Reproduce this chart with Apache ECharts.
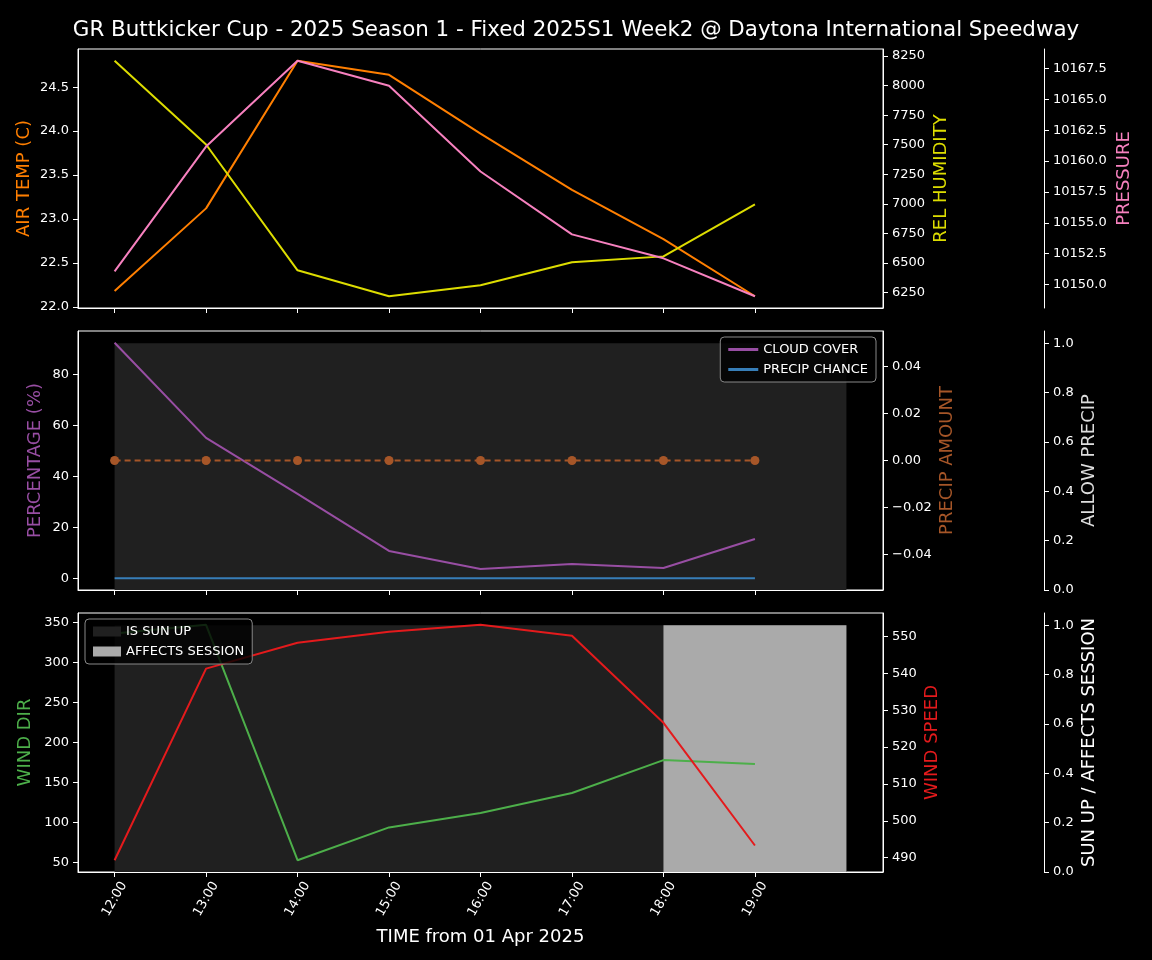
<!DOCTYPE html>
<html><head><meta charset="utf-8">
<script src="https://cdn.jsdelivr.net/npm/echarts@6/dist/echarts.min.js"></script>
<style>html,body{margin:0;padding:0;background:#000;}#c{width:1152px;height:960px;}</style>
</head><body><div id="c"></div>
<script>
const times = ['12:00','13:00','14:00','15:00','16:00','17:00','18:00','19:00'];
const fillHours = [0,1,2,3,4,5,6,7,8];
const airTemp = [22.18, 23.12, 24.80, 24.64, 23.97, 23.33, 22.77, 22.12];
const relHumidity = [8210, 7502, 6438, 6219, 6312, 6506, 6556, 6995];
const pressure = [10151.07, 10161.17, 10168.12, 10166.1, 10159.15, 10154.06, 10152.12, 10149.05];
const cloudCover = [92.3, 55.0, 33.1, 10.7, 3.6, 5.6, 4.0, 15.4];
const precipChance = [0, 0, 0, 0, 0, 0, 0, 0];
const precipAmount = [0, 0, 0, 0, 0, 0, 0, 0];
const allowPrecip = [1, 1, 1, 1, 1, 1, 1, 1, 1];
const windDir = [336, 347, 53, 94, 112, 137, 178, 173];
const windSpeed = [489.3, 541.3, 548.3, 551.3, 553.2, 550.2, 526.6, 493.3];
const sunUp = [1, 1, 1, 1, 1, 1, 1, 1, 1];
const affectsSession = [0, 0, 0, 0, 0, 0, 1, 1, 1];

const tempTicks = [22.0, 22.5, 23.0, 23.5, 24.0, 24.5];
const humTicks = [6250, 6500, 6750, 7000, 7250, 7500, 7750, 8000, 8250];
const presTicks = [10150, 10152.5, 10155, 10157.5, 10160, 10162.5, 10165, 10167.5];
const pctTicks = [0, 20, 40, 60, 80];
const amtTicks = [-0.04, -0.02, 0, 0.02, 0.04];
const unitTicks = [0, 0.2, 0.4, 0.6, 0.8, 1.0];
const dirTicks = [50, 100, 150, 200, 250, 300, 350];
const spdTicks = [490, 500, 510, 520, 530, 540, 550];

const FONT = 'DejaVu Sans';
const C = {
  temp: '#ff7f00', hum: '#dddd00', pres: '#f781bf', cloud: '#984ea3', chance: '#377eb8',
  amt: '#a65628', dir: '#4daf4a', spd: '#e41a1c', sun: '#202020', aff: '#aaaaaa'
};

function pad(arr) {
  const mn = Math.min(...arr), mx = Math.max(...arr);
  const r = (mx - mn) || 0.1;
  return [mn - 0.05 * r, mx + 0.05 * r];
}
function pts(vals, xs) { return vals.map((v, i) => [xs ? xs[i] : i, v]); }
const hours = times.map((t, i) => i);

const GT = [49, 331, 613], GH = 259;
const grids = GT.map(t => ({
  left: 78, right: 269, top: t, height: GH, show: true,
  borderColor: '#ffffff', borderWidth: 1, backgroundColor: '#000', containLabel: false
}));

const xAxes = [0, 1, 2].map(g => ({
  type: 'value', gridIndex: g, min: -0.4, max: 8.4,
  axisLine: { show: true, onZero: false, lineStyle: { color: '#fff', width: 1 } },
  axisTick: { show: true, customValues: hours, length: 5, lineStyle: { color: '#fff' } },
  splitLine: { show: false },
  axisLabel: g === 2 ? {
    show: true, customValues: hours, formatter: v => times[Math.round(v)],
    rotate: 60, align: 'center', verticalAlign: 'middle', margin: 27,
    color: '#fff', fontFamily: FONT, fontSize: 13
  } : { show: false },
  name: g === 2 ? 'TIME from 01 Apr 2025' : '',
  nameLocation: 'middle', nameGap: 56, nameMoveOverlap: false,
  nameTextStyle: { color: '#fff', fontFamily: FONT, fontSize: 18 }
}));

function yAx(grid, pos, offset, rng, ticks, fmt, name, color, gap) {
  return {
    type: 'value', gridIndex: grid, position: pos, offset: offset,
    min: rng[0], max: rng[1],
    axisLine: { show: true, onZero: false, lineStyle: { color: '#fff', width: 1 } },
    axisTick: { show: true, customValues: ticks, length: 5, lineStyle: { color: '#fff' } },
    axisLabel: { show: true, customValues: ticks, formatter: fmt, color: '#fff', fontFamily: FONT, fontSize: 13, margin: 9 },
    splitLine: { show: false },
    name: name, nameLocation: 'middle', nameRotate: 90, nameGap: gap, nameMoveOverlap: false,
    nameTextStyle: { color: color, fontFamily: FONT, fontSize: 18 }
  };
}
const f1 = v => v.toFixed(1);
const f0 = v => String(Math.round(v));
const f2 = v => { const s = Math.abs(v).toFixed(2); return (v < -1e-9 ? '\u2212' : '') + s; };

const yAxes = [
  yAx(0, 'left', 0, pad(airTemp), tempTicks, f1, 'AIR TEMP (C)', C.temp, 45),
  yAx(0, 'right', 0, pad(relHumidity), humTicks, f0, 'REL HUMIDITY', C.hum, 49),
  yAx(0, 'right', 161, pad(pressure), presTicks, f1, 'PRESSURE', C.pres, 71),
  yAx(1, 'left', 0, pad(cloudCover.concat(precipChance)), pctTicks, f0, 'PERCENTAGE (%)', C.cloud, 34),
  yAx(1, 'right', 0, [-0.055, 0.055], amtTicks, f2, 'PRECIP AMOUNT', C.amt, 55),
  yAx(1, 'right', 161, [0, 1.05], unitTicks, f1, 'ALLOW PRECIP', '#dddddd', 36),
  yAx(2, 'left', 0, pad(windDir), dirTicks, f0, 'WIND DIR', C.dir, 44),
  yAx(2, 'right', 0, pad(windSpeed), spdTicks, f0, 'WIND SPEED', C.spd, 40),
  yAx(2, 'right', 161, [0, 1.05], unitTicks, f1, 'SUN UP / AFFECTS SESSION', '#ffffff', 36)
];

function line(name, x, y, vals, color, extra) {
  return Object.assign({
    type: 'line', name: name, xAxisIndex: x, yAxisIndex: y, data: pts(vals),
    showSymbol: false, symbol: 'none', lineStyle: { color: color, width: 2 },
    itemStyle: { color: color }, z: 3, silent: true
  }, extra || {});
}
function fill(name, x, y, vals, color) {
  return {
    type: 'line', name: name, xAxisIndex: x, yAxisIndex: y, data: pts(vals, fillHours),
    step: 'end', showSymbol: false, symbol: 'none', lineStyle: { width: 0, color: color },
    itemStyle: { color: color }, areaStyle: { color: color, opacity: 1 }, z: 1, silent: true
  };
}

const series = [
  line('AIR TEMP', 0, 0, airTemp, C.temp),
  line('REL HUMIDITY', 0, 1, relHumidity, C.hum),
  line('PRESSURE', 0, 2, pressure, C.pres),
  fill('ALLOW PRECIP', 1, 5, allowPrecip, C.sun),
  line('CLOUD COVER', 1, 3, cloudCover, C.cloud),
  line('PRECIP CHANCE', 1, 3, precipChance, C.chance),
  line('PRECIP AMOUNT', 1, 4, precipAmount, C.amt, {
    showSymbol: true, symbol: 'circle', symbolSize: 9,
    lineStyle: { color: C.amt, width: 2, type: [6, 4] }
  }),
  fill('IS SUN UP', 2, 8, sunUp, C.sun),
  fill('AFFECTS SESSION', 2, 8, affectsSession, C.aff),
  line('WIND DIR', 2, 6, windDir, C.dir),
  line('WIND SPEED', 2, 7, windSpeed, C.spd)
];

const legendBase = {
  orient: 'vertical', backgroundColor: 'rgba(0,0,0,0.8)', borderColor: '#888',
  borderWidth: 1, borderRadius: 4, padding: [6, 8], itemGap: 7, selectedMode: false,
  textStyle: { color: '#fff', fontFamily: FONT, fontSize: 13 }
};

const chart = echarts.init(document.getElementById('c'), null, { renderer: 'canvas' });
chart.setOption({
  animation: false,
  backgroundColor: '#000',
  title: {
    text: 'GR Buttkicker Cup - 2025 Season 1 - Fixed 2025S1 Week2 @ Daytona International Speedway',
    left: 'center', top: 15,
    textStyle: { color: '#fff', fontFamily: FONT, fontSize: 21.4, fontWeight: 'normal' }
  },
  grid: grids,
  xAxis: xAxes,
  yAxis: yAxes,
  legend: [
    Object.assign({}, legendBase, {
      data: ['CLOUD COVER', 'PRECIP CHANCE'], right: 276, top: 337,
      icon: 'rect', itemWidth: 30, itemHeight: 3
    }),
    Object.assign({}, legendBase, {
      data: ['IS SUN UP', 'AFFECTS SESSION'], left: 85, top: 619,
      icon: 'rect', itemWidth: 28, itemHeight: 10
    })
  ],
  series: series
});
</script></body></html>
